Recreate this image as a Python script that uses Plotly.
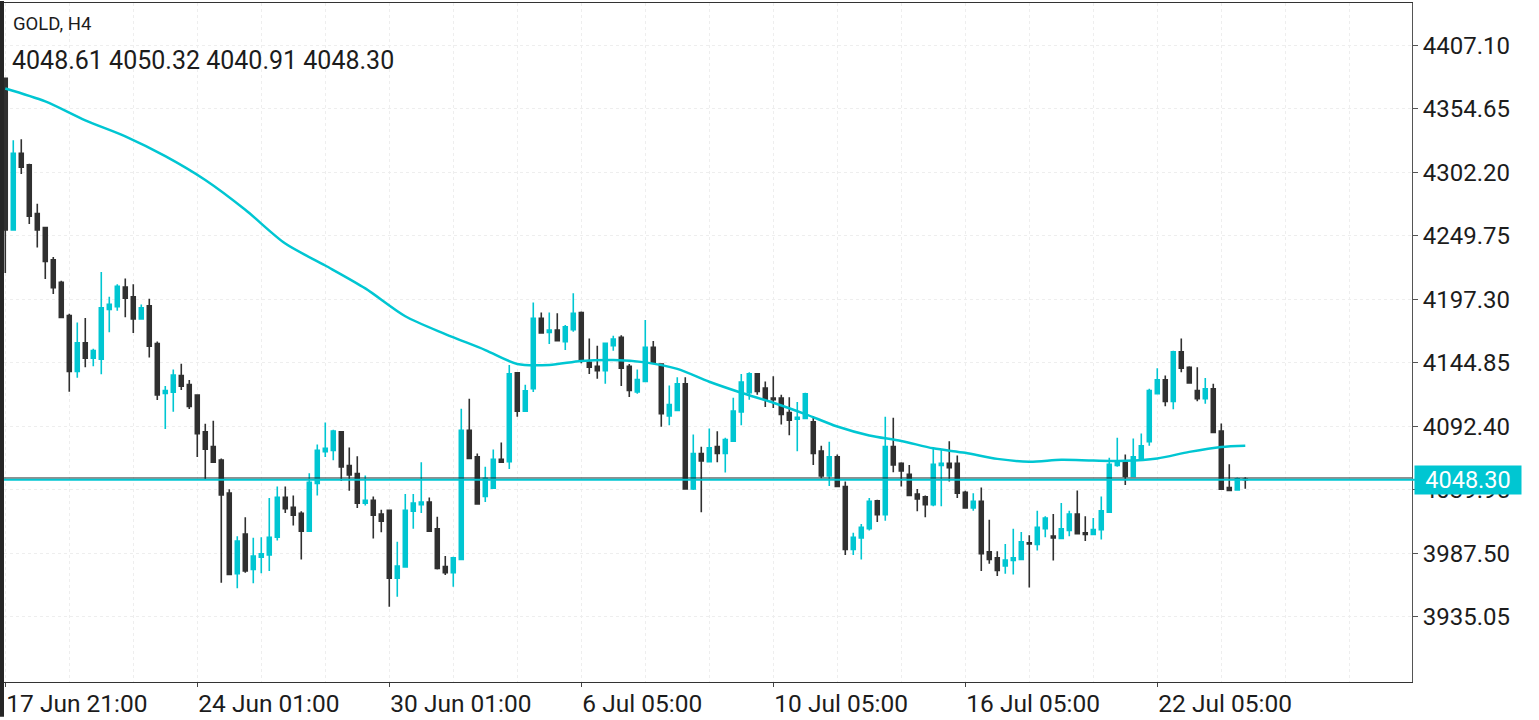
import plotly.graph_objects as go

# ---------------- data ----------------
symbol = "GOLD, H4"
last_ohlc = [4048.61, 4050.32, 4040.91, 4048.30]
bid = 4048.30

open_ = [4379.9, 4254.5, 4317.9, 4308.4, 4268.1, 4256.5, 4230.0, 4211.3, 4183.8, 4137.7,
         4161.3, 4148.7, 4147.8, 4189.0, 4191.1, 4207.5, 4199.4, 4181.0, 4192.0, 4160.8,
         4119.6, 4120.5, 4134.3, 4126.8, 4118.2, 4087.9, 4075.6, 4064.5, 4037.2, 3970.7,
         4003.5, 3974.2, 3984.4, 3986.1, 4000.8, 4033.7, 4025.5, 4020.5, 4005.8, 4045.2,
         4071.4, 4072.5, 4087.9, 4060.0, 4053.4, 4029.0, 4031.2, 4020.0, 4023.0, 3966.9,
         3976.2, 4022.2, 4027.6, 4029.8, 4007.7, 3976.5, 3971.5, 3982.4, 4089.2, 4067.3,
         4034.5, 4041.3, 4065.1, 4063.2, 4136.6, 4104.8, 4123.4, 4181.5, 4170.0, 4171.9,
         4162.2, 4172.1, 4186.4, 4145.3, 4142.0, 4138.4, 4159.0, 4165.9, 4142.0, 4120.7,
         4129.4, 4157.6, 4143.9, 4101.0, 4105.6, 4127.5, 4040.7, 4070.0, 4063.2, 4075.6,
         4070.0, 4080.1, 4104.3, 4120.1, 4135.7, 4124.0, 4115.8, 4115.8, 4103.7, 4098.2,
         4098.8, 4096.1, 4071.9, 4051.4, 4067.3, 4042.7, 3990.7, 4000.3, 4007.9, 4030.9,
         4019.4, 4075.6, 4061.8, 4052.8, 4036.4, 4034.2, 4027.6, 4060.0, 4061.8, 4061.8,
         4038.0, 4024.9, 4030.4, 3988.8, 3983.8, 3977.0, 3981.6, 3982.4, 3996.2, 3994.8,
         4007.9, 4001.7, 3999.7, 4006.3, 4020.0, 4004.4, 4003.0, 4007.1, 4021.4, 4060.0,
         4062.7, 4050.9, 4065.9, 4079.7, 4119.3, 4130.8, 4113.0, 4154.0, 4141.2, 4122.0,
         4115.2, 4123.4, 4088.4, 4041.9, 4039.9, 4048.61]

high = [4380.5, 4328.6, 4329.5, 4309.3, 4276.1, 4257.1, 4232.3, 4212.7, 4185.3, 4178.1,
        4181.9, 4156.5, 4219.9, 4199.4, 4209.8, 4214.5, 4209.8, 4193.1, 4197.7, 4162.5,
        4125.6, 4139.4, 4144.1, 4130.6, 4118.2, 4094.5, 4096.9, 4065.9, 4040.5, 4001.7,
        4017.3, 4000.3, 4000.8, 4033.1, 4042.7, 4042.7, 4035.3, 4022.2, 4053.6, 4077.4,
        4095.5, 4089.5, 4087.9, 4075.0, 4067.6, 4051.7, 4034.5, 4023.5, 4023.0, 3997.0,
        4036.4, 4036.4, 4062.7, 4033.7, 4017.8, 3985.2, 3984.7, 4107.0, 4115.2, 4070.0,
        4059.1, 4073.3, 4079.1, 4143.1, 4137.1, 4126.7, 4194.6, 4186.4, 4186.4, 4185.8,
        4176.0, 4202.2, 4187.2, 4165.0, 4159.0, 4160.9, 4167.2, 4167.7, 4143.9, 4139.3,
        4180.1, 4162.8, 4143.9, 4126.1, 4133.0, 4133.0, 4085.6, 4075.6, 4090.6, 4088.4,
        4082.9, 4116.0, 4135.7, 4137.1, 4135.7, 4129.4, 4133.8, 4118.5, 4116.3, 4112.5,
        4120.1, 4101.0, 4076.4, 4079.7, 4069.2, 4046.8, 4004.4, 4011.8, 4033.1, 4031.7,
        4100.2, 4099.4, 4062.7, 4060.4, 4040.7, 4035.3, 4073.6, 4072.8, 4080.1, 4068.2,
        4039.1, 4037.2, 4041.9, 4015.3, 3989.3, 3995.3, 4007.7, 4005.2, 4002.5, 4022.7,
        4018.1, 4020.0, 4029.0, 4022.7, 4039.4, 4018.1, 4016.7, 4034.5, 4066.5, 4082.9,
        4069.2, 4082.4, 4086.5, 4123.4, 4140.4, 4134.3, 4154.9, 4165.0, 4142.0, 4141.2,
        4132.2, 4127.5, 4094.7, 4061.0, 4050.1, 4050.32]

low = [4219.1, 4254.5, 4300.7, 4259.4, 4240.1, 4214.1, 4201.7, 4182.4, 4121.0, 4132.5,
       4141.1, 4142.0, 4135.4, 4170.0, 4187.9, 4182.4, 4169.5, 4181.0, 4149.3, 4114.1,
       4090.2, 4104.5, 4122.4, 4106.6, 4067.1, 4048.4, 4062.7, 3963.3, 3970.1, 3958.6,
       3971.5, 3962.7, 3971.0, 3972.9, 3998.0, 4020.8, 4010.4, 3982.4, 4005.8, 4035.3,
       4067.0, 4064.3, 4047.3, 4039.1, 4024.9, 4027.1, 3999.7, 4004.9, 3943.4, 3951.6,
       3976.2, 4007.9, 4020.8, 4005.8, 3974.2, 3969.6, 3959.8, 3982.2, 4065.9, 4028.2,
       4029.8, 4040.7, 4062.7, 4057.2, 4100.2, 4104.8, 4120.7, 4169.4, 4160.4, 4163.1,
       4155.4, 4170.5, 4144.5, 4135.7, 4131.6, 4127.5, 4154.9, 4125.6, 4116.6, 4119.3,
       4129.4, 4145.3, 4092.0, 4093.3, 4105.6, 4040.7, 4039.9, 4021.4, 4063.2, 4062.7,
       4054.2, 4080.1, 4093.3, 4114.4, 4118.5, 4108.4, 4107.6, 4093.9, 4085.1, 4071.9,
       4098.8, 4060.4, 4049.5, 4043.2, 4042.7, 3986.1, 3986.1, 3982.4, 4006.3, 4013.4,
       4014.5, 4054.4, 4042.7, 4035.3, 4022.2, 4017.3, 4026.3, 4026.3, 4046.8, 4033.1,
       4024.3, 4022.7, 3972.9, 3978.9, 3968.8, 3970.7, 3970.1, 3982.4, 3959.2, 3989.8,
       4000.8, 3981.6, 3999.7, 4001.7, 4003.8, 3997.6, 4003.0, 3998.9, 4021.4, 4059.1,
       4044.0, 4050.9, 4065.9, 4076.4, 4119.3, 4108.9, 4106.4, 4137.1, 4128.3, 4113.0,
       4111.1, 4087.3, 4039.9, 4039.4, 4039.9, 4040.91]

close = [4254.5, 4317.9, 4306.4, 4266.0, 4254.5, 4228.6, 4206.9, 4182.4, 4137.7, 4161.3,
         4148.7, 4155.0, 4190.2, 4193.1, 4208.1, 4198.3, 4181.0, 4190.2, 4158.5, 4118.2,
         4121.9, 4134.8, 4125.6, 4108.9, 4086.4, 4073.4, 4062.7, 4035.8, 3970.1, 3997.6,
         3972.9, 3985.2, 3987.1, 4000.8, 4033.7, 4024.3, 4018.9, 4005.8, 4046.2, 4072.5,
         4074.2, 4088.4, 4058.8, 4052.2, 4029.0, 4031.2, 4018.9, 4014.0, 3966.9, 3977.0,
         4023.0, 4029.0, 4029.8, 4005.8, 3975.1, 3971.5, 3983.8, 4089.2, 4065.9, 4028.2,
         4049.5, 4065.1, 4062.7, 4135.7, 4104.8, 4121.8, 4181.5, 4169.4, 4171.9, 4163.1,
         4174.6, 4185.8, 4146.6, 4141.2, 4138.4, 4160.9, 4164.5, 4140.4, 4122.0, 4131.0,
         4157.6, 4145.3, 4102.9, 4110.3, 4127.5, 4040.7, 4070.0, 4063.7, 4074.7, 4070.0,
         4081.5, 4105.1, 4128.9, 4135.7, 4121.2, 4114.6, 4114.4, 4102.1, 4097.4, 4099.9,
         4119.3, 4070.0, 4051.4, 4067.3, 4042.7, 3990.7, 4000.8, 4009.0, 4030.4, 4019.4,
         4075.6, 4060.4, 4055.5, 4035.3, 4032.5, 4027.6, 4061.0, 4061.8, 4058.3, 4037.2,
         4024.9, 4030.4, 3987.1, 3982.4, 3973.4, 3982.0, 3983.8, 3997.0, 3995.3, 4009.0,
         4016.7, 4000.3, 4007.7, 4020.0, 4003.8, 4003.0, 4007.1, 4022.7, 4061.0, 4063.2,
         4050.9, 4067.3, 4076.4, 4122.0, 4130.8, 4113.0, 4154.0, 4140.4, 4128.3, 4115.2,
         4123.4, 4087.3, 4040.5, 4039.4, 4049.0, 4048.30]

# moving average, read at selected bars
ma_idx = [0, 5, 10, 15, 20, 25, 30, 35, 40, 45, 50, 55, 60, 64, 68, 72, 76, 80, 84, 88,
          92, 96, 100, 104, 108, 112, 116, 120, 124, 128, 132, 136, 140, 144, 148, 152, 155]
ma_val = [4371.4, 4360.7, 4345.1, 4331.9, 4315.5, 4295.8, 4271.2, 4243.3, 4225.2, 4206.3,
          4183.3, 4168.6, 4155.4, 4143.9, 4143.1, 4146.4, 4147.2, 4145.2, 4139.8, 4129.2,
          4120.1, 4111.9, 4102.5, 4092.2, 4084.8, 4080.3, 4074.2, 4070.5, 4065.5, 4063.2,
          4064.7, 4064.1, 4063.9, 4065.9, 4071.3, 4075.4, 4076.4]

tick_idx = [0, 24, 48, 72, 96, 120, 144]
tick_text = ["17 Jun 21:00", "24 Jun 01:00", "30 Jun 01:00", "6 Jul 05:00",
             "10 Jul 05:00", "16 Jul 05:00", "22 Jul 05:00"]
price_ticks = [4407.10, 4354.65, 4302.20, 4249.75, 4197.30, 4144.85,
               4092.40, 4039.95, 3987.50, 3935.05]

# ---------------- styling ----------------
W, H = 1539, 720
L, R, T, B = 4, 127, 2, 35
PW, PH = W - L - R, H - T - B
CYAN = "#00c6d2"
DARK = "#303030"
TXT = "#1c1c1c"
FONT = "Roboto"
GRID = "#eeeeee"


def px_x(px):
    return (px - L) / PW


def px_y(py):
    return 1 - (py - T) / PH


x = list(range(len(open_)))

fig = go.Figure()
fig.add_trace(go.Candlestick(
    x=x, open=open_, high=high, low=low, close=close,
    increasing=dict(line=dict(color=CYAN, width=1.6), fillcolor=CYAN),
    decreasing=dict(line=dict(color=DARK, width=1.6), fillcolor=DARK),
    hoverinfo="skip",
))
fig.add_trace(go.Scatter(
    x=ma_idx, y=ma_val, mode="lines",
    line=dict(color=CYAN, width=2.5, shape="spline", smoothing=0.8),
    hoverinfo="skip",
))

fig.update_layout(
    width=W, height=H,
    margin=dict(l=L, r=R, t=T, b=B, pad=0),
    paper_bgcolor="white", plot_bgcolor="white",
    showlegend=False, hovermode=False,
    font=dict(family=FONT, color=TXT),
    xaxis=dict(
        range=[-0.16, 175.84], rangeslider=dict(visible=False),
        tickmode="array", tickvals=tick_idx, ticktext=tick_text,
        ticks="outside", ticklen=4, tickcolor="#444",
        ticklabelposition="outside right",
        tickfont=dict(family=FONT, size=24.5, color=TXT),
        showline=True, linecolor="#333", linewidth=1, mirror=True,
        showgrid=True, gridcolor=GRID, griddash="dot", zeroline=False,
        minor=dict(tickmode="linear", tick0=0, dtick=8, showgrid=True,
                   gridcolor=GRID, griddash="dot", ticks=""),
    ),
    yaxis=dict(
        side="right", range=[3881.24, 4441.99],
        tickmode="array", tickvals=price_ticks,
        ticktext=[f"{v:.2f}" for v in price_ticks],
        ticks="outside", ticklen=5, tickcolor="#555",
        tickfont=dict(family=FONT, size=24, color=TXT),
        showline=True, linecolor="#555", linewidth=1, mirror=True,
        showgrid=True, gridcolor=GRID, griddash="dot", zeroline=False,
    ),
)

# left dark stripe of the window frame
fig.add_shape(type="rect", xref="paper", yref="paper",
              x0=-L / PW, x1=0, y0=-B / PH, y1=1 + T / PH,
              fillcolor="#262626", line=dict(width=0), layer="above")

# current price lines
fig.add_shape(type="line", xref="paper", yref="y", x0=0, x1=1,
              y0=bid + 1.4, y1=bid + 1.4, line=dict(color="#222", width=1.2))
fig.add_shape(type="line", xref="paper", yref="y", x0=0, x1=1 + 4 / PW,
              y0=bid, y1=bid, line=dict(color=CYAN, width=2))

# header
fig.add_annotation(xref="paper", yref="paper", x=px_x(11), y=px_y(23),
                   xanchor="left", yanchor="middle", showarrow=False,
                   text=symbol, font=dict(family=FONT, size=18.5, color=TXT))
fig.add_annotation(xref="paper", yref="paper", x=px_x(10), y=px_y(60),
                   xanchor="left", yanchor="middle", showarrow=False,
                   text=" ".join(f"{v:.2f}" for v in last_ohlc),
                   font=dict(family=FONT, size=25, color=TXT))

# price badge
fig.add_annotation(xref="paper", yref="y", x=1 + 2 / PW, y=bid,
                   xanchor="left", yanchor="middle", showarrow=False,
                   text=f"{bid:.2f}", bgcolor=CYAN, width=102, height=24,
                   borderpad=2, font=dict(family=FONT, size=23.5, color="white"))

fig.write_html("out.html", config={"displayModeBar": False})
